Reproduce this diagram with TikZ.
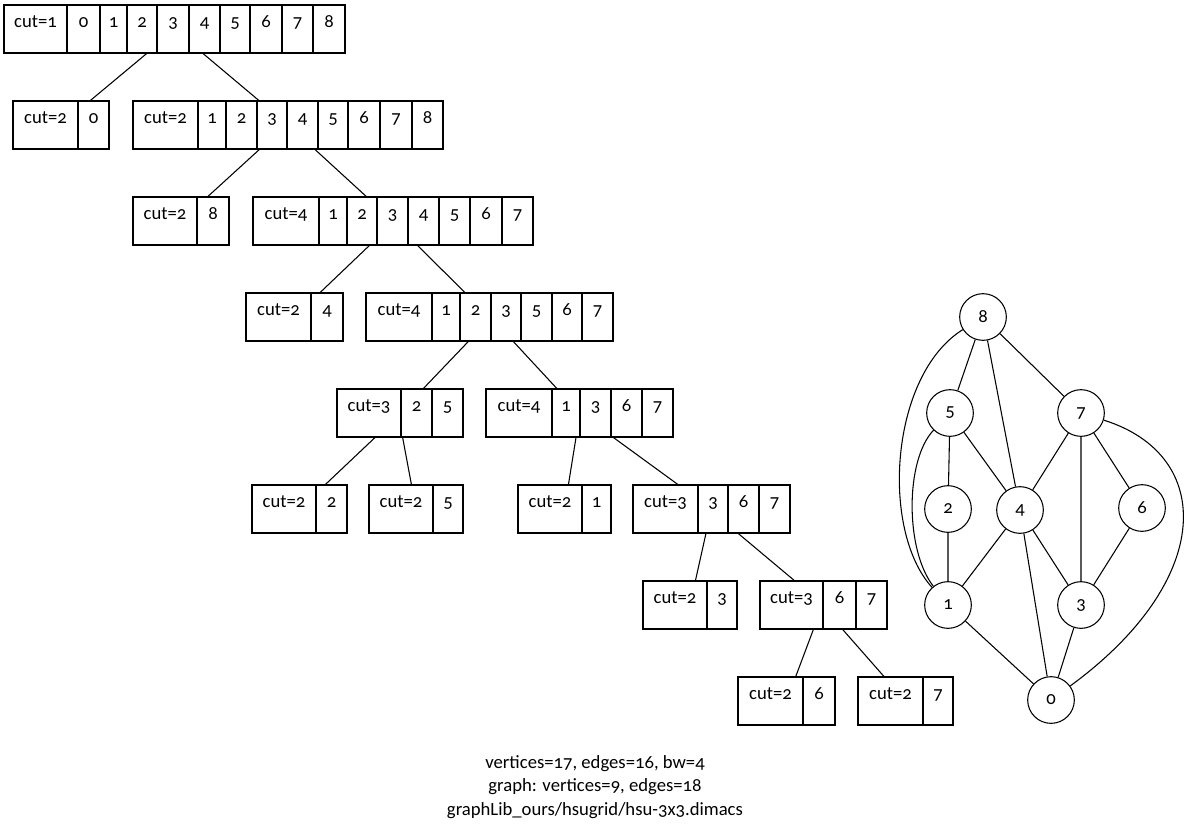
\documentclass[tikz,border=0pt]{standalone}
\usepackage{fontspec}
\setmainfont{Carlito}[Numbers=OldStyle]
\usepackage{tikz}
\tikzset{
  field/.style={draw, line width=0.8pt, inner sep=0pt, minimum height=36pt,
    text height=16.5pt, text depth=19.5pt},
  recbox/.style={inner sep=0pt, minimum height=36pt},
  vert/.style={circle, draw, line width=0.8pt, inner sep=0pt, minimum size=35pt},
  link/.style={line width=0.8pt}
}
% record: name, top, left, right, fields (left/right/label)
\newcommand{\record}[5]{%
  \node[recbox, minimum width={(#4-#3)*0.75pt}] (#1) at ({(#3+#4)/2}, #2+24) {};
  \foreach \xa/\xb/\lab [count=\k] in {#5}
    \node[field, minimum width={(\xb-\xa)*0.75pt}] (#1-\k) at ({(\xa+\xb)/2}, #2+24) {\lab};
}

\begin{document}
\begin{tikzpicture}[x=0.75pt, y=-0.75pt, font=\fontsize{14pt}{17pt}\selectfont]
\useasboundingbox (0,0) rectangle (1191,835);

% decomposition tree
\record{r1}{5}{4}{345}{4/67/cut=1, 67/100/0, 100/127/1, 127/157/2, 157/189/3, 189/220/4, 220/250/5, 250/282/6, 282/313/7, 313/345/8}
\record{r2a}{101}{13}{109}{13/78/cut=2, 78/109/0}
\record{r2b}{101}{133}{443}{133/198/cut=2, 198/226/1, 226/257/2, 257/287/3, 287/318/4, 318/348/5, 348/380/6, 380/412/7, 412/443/8}
\record{r3a}{197}{133}{229}{133/197/cut=2, 197/229/8}
\record{r3b}{197}{253}{533}{253/319/cut=4, 319/347/1, 347/377/2, 377/408/3, 408/439/4, 439/470/5, 470/502/6, 502/533/7}
\record{r4a}{293}{246}{343}{246/311/cut=2, 311/343/4}
\record{r4b}{293}{366}{613}{366/432/cut=4, 432/460/1, 460/491/2, 491/521/3, 521/552/5, 552/582/6, 582/613/7}
\record{r5a}{389}{337}{463}{337/401/cut=3, 401/432/2, 432/463/5}
\record{r5b}{389}{486}{673}{486/552/cut=4, 552/580/1, 580/611/3, 611/642/6, 642/673/7}
\record{r6a}{485}{252}{347}{252/316/cut=2, 316/347/2}
\record{r6b}{485}{369}{463}{369/433/cut=2, 433/463/5}
\record{r6c}{485}{518}{611}{518/582/cut=2, 582/611/1}
\record{r6d}{485}{633}{790}{633/698/cut=3, 698/728/3, 728/759/6, 759/790/7}
\record{r7a}{581}{643}{737}{643/707/cut=2, 707/737/3}
\record{r7b}{581}{760}{887}{760/823/cut=3, 823/856/6, 856/887/7}
\record{r8a}{677}{738}{835}{738/803/cut=2, 803/835/6}
\record{r8b}{677}{858}{953}{858/923/cut=2, 923/953/7}

\draw[link] ([xshift=3.5pt]r1-4.south) -- (r2a);
\draw[link] ([xshift=-1.1pt]r1-6.south) -- (r2b);
\draw[link] ([xshift=-9.5pt]r2b-4.south) -- (r3a);
\draw[link] ([xshift=9.4pt]r2b-5.south) -- (r3b);
\draw[link] ([xshift=5.5pt]r3b-3.south) -- (r4a);
\draw[link] ([xshift=-4.4pt]r3b-5.south) -- (r4b);
\draw[link] ([xshift=-5.4pt]r4b-3.south) -- (r5a);
\draw[link] ([xshift=5.5pt]r4b-4.south) -- (r5b);
\draw[link] ([xshift=4.5pt]r5a-1.south) -- (r6a);
\draw[link] ([xshift=-10.4pt]r5a-2.south) -- (r6b);
\draw[link] ([xshift=7.5pt]r5b-2.south) -- (r6c);
\draw[link] ([xshift=-9.8pt]r5b-4.south) -- (r6d);
\draw[link] ([xshift=-5.3pt]r6d-2.south) -- (r7a);
\draw[link] ([xshift=-3.9pt]r6d-3.south) -- (r7b);
\draw[link] ([xshift=16.4pt]r7b-1.south) -- (r8a);
\draw[link] ([xshift=2.4pt]r7b-2.south) -- (r8b);

% the graph
\node[vert] (g8) at (983,317) {8};
\node[vert] (g5) at (950,413) {5};
\node[vert] (g7) at (1081,413) {7};
\node[vert] (g2) at (948,509) {2};
\node[vert] (g4) at (1020,510) {4};
\node[vert] (g6) at (1142,508) {6};
\node[vert] (g1) at (948,605) {1};
\node[vert] (g3) at (1081,605) {3};
\node[vert] (g0) at (1051,700) {0};

\draw[link] (g8) -- (g5);
\draw[link] (g8) -- (g4);
\draw[link] (g8) -- (g7);
\draw[link] (g5) -- (g2) -- (g1);
\draw[link] (g5) -- (g4) -- (g1);
\draw[link] (g7) -- (g4) -- (g3);
\draw[link] (g4) -- (g0);
\draw[link] (g7) -- (g3) -- (g0);
\draw[link] (g7) -- (g6) -- (g3);
\draw[link] (g1) -- (g0);
\draw[link] (g8) .. controls (890,375) and (880,530) .. (g1);
\draw[link] (g5) .. controls (905,460) and (905,550) .. (g1);
\draw[link] (g7) .. controls (1215,455) and (1215,580) .. (g0);

\node[align=center, anchor=base, font=\fontsize{14pt}{17.6pt}\selectfont] (info) at (595,815)
  {vertices=17, edges=16, bw=4\\graph: vertices=9, edges=18\\graphLib\_ours/hsugrid/hsu-3x3.dimacs};
\end{tikzpicture}
\end{document}
